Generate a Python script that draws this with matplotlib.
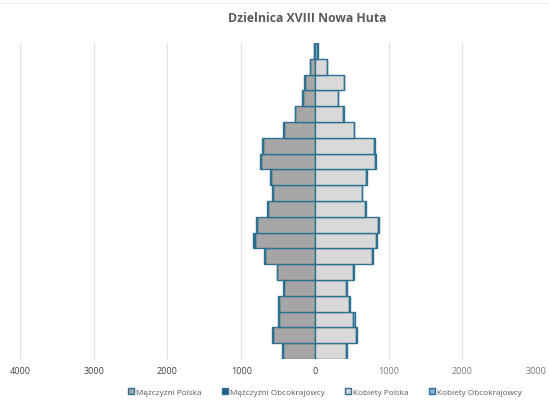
import matplotlib
matplotlib.use("Agg")
import matplotlib.pyplot as plt
from matplotlib.patches import Patch
from matplotlib.lines import Line2D
from matplotlib.ticker import FixedLocator, FuncFormatter

plt.rcParams['font.family'] = ['Open Sans', 'DejaVu Sans']

# Age groups from youngest (bottom) to oldest (top)
age_groups = ["0-4", "5-9", "10-14", "15-19", "20-24", "25-29", "30-34", "35-39",
              "40-44", "45-49", "50-54", "55-59", "60-64", "65-69", "70-74",
              "75-79", "80-84", "85-89", "90-94", "95+"]

men_pl = [430, 562, 485, 490, 425, 508, 680, 812, 780, 635,
          567, 595, 725, 710, 425, 270, 165, 140, 65, 15]
men_foreign = [12, 20, 15, 10, 8, 10, 12, 25, 18, 10,
               8, 8, 20, 10, 6, 5, 4, 4, 2, 1]
women_pl = [420, 553, 520, 467, 420, 520, 775, 830, 853, 680,
            635, 695, 815, 800, 525, 385, 310, 390, 165, 35]
women_foreign = [10, 18, 20, 12, 10, 10, 15, 12, 15, 10,
                 8, 10, 15, 12, 8, 6, 4, 5, 3, 1]

series_labels = ["Mężczyźni Polska", "Mężczyźni Obcokrajowcy",
                 "Kobiety Polska", "Kobiety Obcokrajowcy"]
x_ticks = [-4000, -3000, -2000, -1000, 0, 1000, 2000, 3000]
title = "Dzielnica XVIII Nowa Huta"

edge = "#2f6f8f"
c_men = "#a6a6a6"
c_men_f = "#1f5d8a"
c_women = "#d9d9d9"
c_women_f = "#7fb2d6"

W, H = 549, 402
fig = plt.figure(figsize=(W / 100, H / 100), dpi=100)
ax = fig.add_axes([20 / W, 42 / H, 516 / W, 316 / H])

y = list(range(len(age_groups)))
neg_men = [-v for v in men_pl]
neg_men_f = [-v for v in men_foreign]

bar_kw = dict(height=1.0, edgecolor=edge, linewidth=1.0, zorder=3)
ax.barh(y, neg_men, color=c_men, **bar_kw)
ax.barh(y, neg_men_f, left=neg_men, color=c_men_f, **bar_kw)
ax.barh(y, women_pl, color=c_women, **bar_kw)
ax.barh(y, women_foreign, left=women_pl, color=c_women_f, **bar_kw)

ax.set_xlim(-4000, 3000)
ax.set_ylim(-0.5, len(age_groups) - 0.5)
ax.xaxis.set_major_locator(FixedLocator(x_ticks))
ax.xaxis.set_major_formatter(FuncFormatter(lambda v, p: f"{abs(int(v))}"))
ax.set_yticks([])
ax.grid(axis="x", color="#e0e0e0", linewidth=0.9, zorder=0)
ax.tick_params(axis="x", length=0, pad=5, labelsize=6.5, labelcolor="#404040")
for lbl, v in zip(ax.get_xticklabels(), x_ticks):
    if v > 0:
        lbl.set_color("#7a7a7a")
for s in ax.spines.values():
    s.set_visible(False)

# faint chart-area border line along the top
fig.add_artist(Line2D([0, 1], [1 - 4 / H, 1 - 4 / H], transform=fig.transFigure,
                      color="#f0f0f0", linewidth=0.8))

fig.text(307 / W, 1 - 19 / H, title, ha="center", va="center",
         fontsize=8.8, fontweight="bold", color="#595959")

handles = [Patch(facecolor=c_men, edgecolor=edge, linewidth=1.0),
           Patch(facecolor=c_men_f, edgecolor=edge, linewidth=1.0),
           Patch(facecolor=c_women, edgecolor=edge, linewidth=1.0),
           Patch(facecolor=c_women_f, edgecolor=edge, linewidth=1.0)]
leg = fig.legend(handles, series_labels, loc="center", ncol=4,
                 bbox_to_anchor=(325 / W, 1 - 393 / H), frameon=False,
                 fontsize=5.9, handlelength=0.7, handleheight=0.7,
                 handletextpad=0.25, columnspacing=2.5)
for t in leg.get_texts():
    t.set_color("#595959")

fig.savefig("out.png", dpi=100, facecolor="white")
